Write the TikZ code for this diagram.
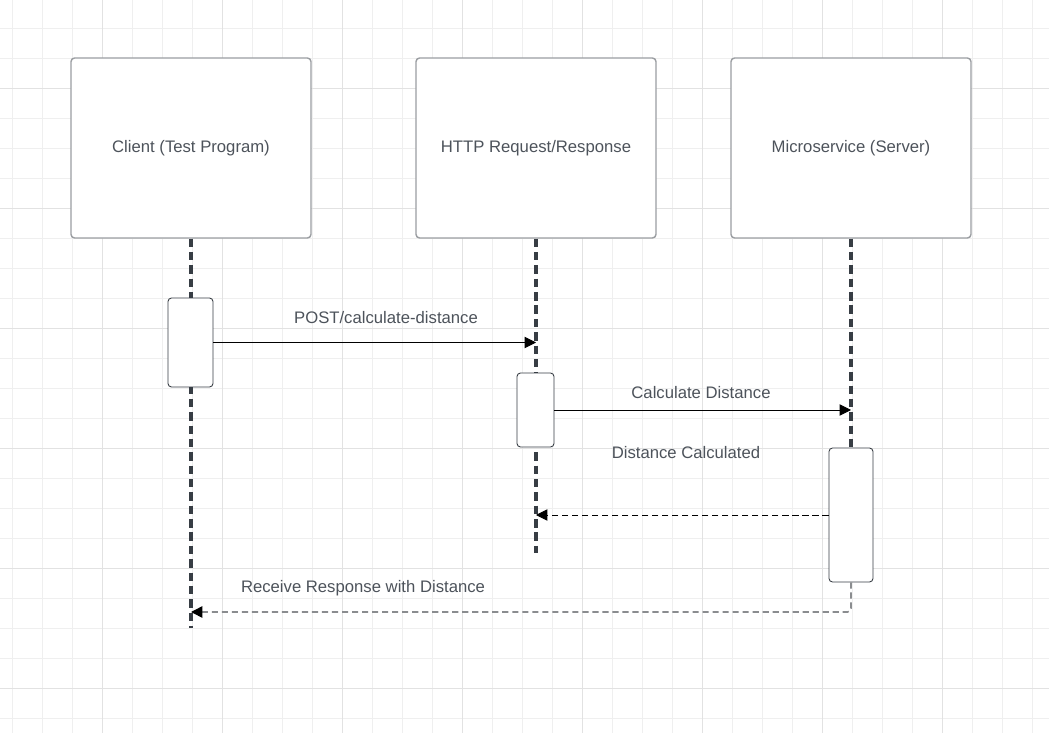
\documentclass[tikz,border=0pt]{standalone}
\usepackage{fontspec}
\setmainfont{Liberation Sans}
\usetikzlibrary{arrows.meta}

\definecolor{gridminor}{HTML}{EFEFEF}
\definecolor{gridmajor}{HTML}{E2E2E2}
\definecolor{boxline}{HTML}{9B9EA2}
\definecolor{lifeline}{HTML}{373D44}
\definecolor{textgray}{HTML}{4D535B}
\definecolor{retgray}{HTML}{8A8C8F}

\begin{document}
\begin{tikzpicture}[x=0.02cm,y=-0.02cm,
        every node/.style = {font=\fontsize{9.5}{11}\selectfont, text=textgray},
        party/.style = {draw=boxline, line width=0.8pt, rounded corners=2pt,
            fill=white, minimum width=4.8cm, minimum height=3.6cm},
        active/.style = {draw=lifeline, line width=0.5pt, rounded corners=2pt,
            fill=white},
        life/.style = {draw=lifeline, line width=1.9pt, dash pattern=on 4.8pt off 2.8pt},
        msg/.style = {-{Triangle[length=6.5pt,width=6.5pt,color=black]}, line width=0.5pt},
        reply/.style = {msg, dash pattern=on 3.5pt off 2.2pt}]

    % background grid
    \fill[white] (0,0) rectangle (1049,733);
    \useasboundingbox (0,0) rectangle (1049,733);
    \foreach \x in {12,42,...,1049}
        \draw[gridminor, line width=0.4pt] (\x,0) -- (\x,733);
    \foreach \y in {28,58,...,733}
        \draw[gridminor, line width=0.4pt] (0,\y) -- (1049,\y);
    \foreach \x in {102,222,...,1049}
        \draw[gridmajor, line width=0.5pt] (\x,0) -- (\x,733);
    \foreach \y in {88,208,...,733}
        \draw[gridmajor, line width=0.5pt] (0,\y) -- (1049,\y);

    % participants
    \node[party] (client) at (191,148) {Client (Test Program)};
    \node[party] (http) at (536,148) {HTTP Request/Response};
    \node[party] (server) at (851,148) {Microservice (Server)};

    % lifelines
    \coordinate (clientend) at (191,628);
    \coordinate (httpend) at (536,553);
    \coordinate (serverend) at (851,448);
    \draw[life] (client.south) -- (clientend);
    \draw[life] (http.south) -- (httpend);
    \draw[life] (server.south) -- (serverend);

    % activations
    \node[active, minimum width=0.9cm, minimum height=1.78cm] (clientact) at (190.5,342.5) {};
    \node[active, minimum width=0.74cm, minimum height=1.48cm] (httpact) at (535.5,410) {};
    \node[active, minimum width=0.88cm, minimum height=2.68cm] (serveract) at (851,515) {};

    % messages
    \draw[msg] (clientact.east) -- (clientact.east -| http.south);
    \node (post) at (386,318) {POST/calculate-distance};
    \draw[msg] (httpact.east) -- (httpact.east -| server.south);
    \node (calc) at (701,393) {Calculate Distance};
    \node (done) at (686,453) {Distance Calculated};
    \draw[reply] (serveract.west) -- (serveract.west -| http.south);
    \coordinate (recvend) at (191,612);
    \draw[reply, draw=retgray, line width=0.9pt, rounded corners=2pt] (serveract.south) |- (recvend);
    \node (recv) at (363,588) {Receive Response with Distance};
\end{tikzpicture}
\end{document}
